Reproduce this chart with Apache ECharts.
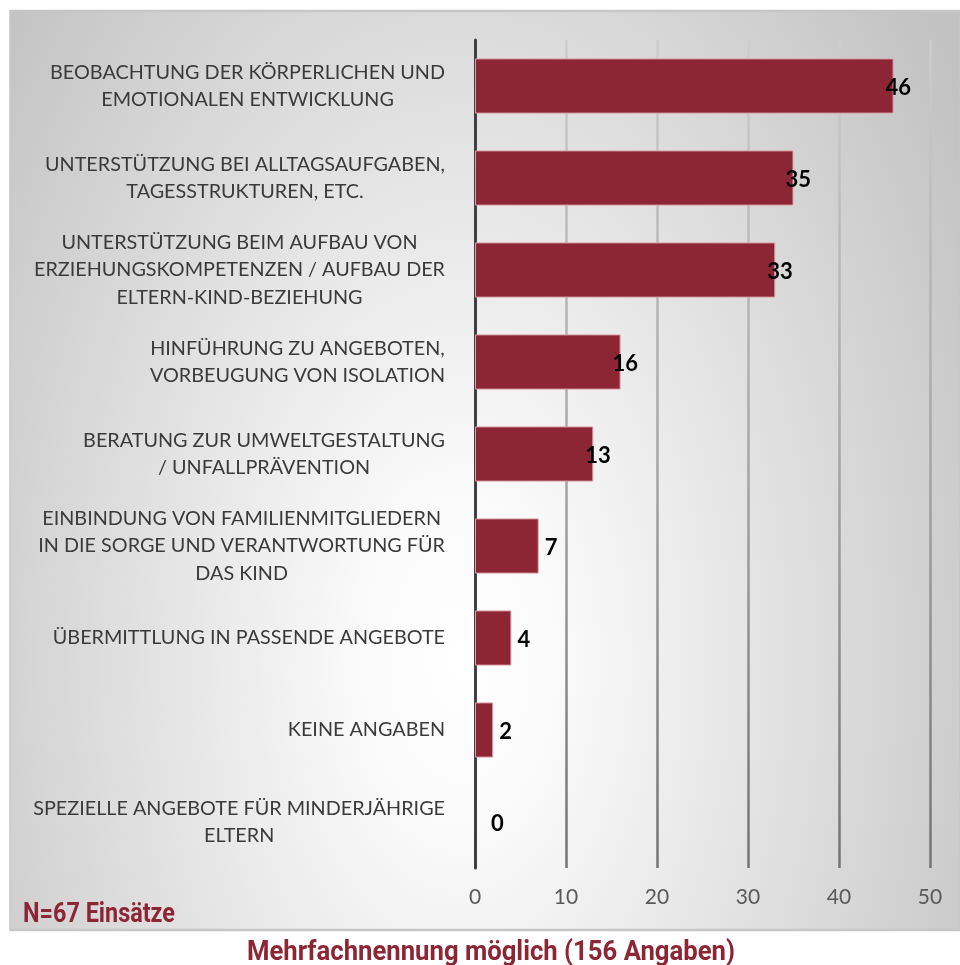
<!DOCTYPE html>
<html>
<head>
<meta charset="utf-8">
<script src="https://cdn.jsdelivr.net/npm/echarts@6/dist/echarts.min.js"></script>
<style>
  html, body { margin: 0; padding: 0; background: #ffffff; }
  #chart { width: 960px; height: 965px; }
</style>
</head>
<body>
<div id="chart"></div>
<script>
// Leistungen der Einsätze (Mehrfachnennung), von oben nach unten
const categories = [
  'BEOBACHTUNG DER KÖRPERLICHEN UND\nEMOTIONALEN ENTWICKLUNG',
  'UNTERSTÜTZUNG BEI ALLTAGSAUFGABEN,\nTAGESSTRUKTUREN, ETC.',
  'UNTERSTÜTZUNG BEIM AUFBAU VON\nERZIEHUNGSKOMPETENZEN / AUFBAU DER\nELTERN-KIND-BEZIEHUNG',
  'HINFÜHRUNG ZU ANGEBOTEN,\nVORBEUGUNG VON ISOLATION',
  'BERATUNG ZUR UMWELTGESTALTUNG\n/ UNFALLPRÄVENTION',
  'EINBINDUNG VON FAMILIENMITGLIEDERN\nIN DIE SORGE UND VERANTWORTUNG FÜR\nDAS KIND',
  'ÜBERMITTLUNG IN PASSENDE ANGEBOTE',
  'KEINE ANGABEN',
  'SPEZIELLE ANGEBOTE FÜR MINDERJÄHRIGE\nELTERN'
];
const counts = [46, 35, 33, 16, 13, 7, 4, 2, 0];
const axisTicks = [0, 10, 20, 30, 40, 50];
const sampleNote = 'N=67 Einsätze';
const footNote = 'Mehrfachnennung möglich (156 Angaben)';

const RED = '#8c2534';
const TEXT_FONT = 'Lato, "Open Sans", sans-serif';
const HEAVY_FONT = 'bold 27px Roboto, "Liberation Sans", sans-serif';

const chart = echarts.init(document.getElementById('chart'), null, { renderer: 'canvas' });

// Horizontal squeeze so a bold face reads as a condensed one of a given width
function squeezeFor(text, font, targetWidth) {
  const ctx = document.createElement('canvas').getContext('2d');
  ctx.font = font;
  return targetWidth / ctx.measureText(text).width;
}

// Value labels sit over the bar end for two-digit numbers, just right of it otherwise
function labelOffset(v) {
  if (v >= 10) return [-13, 2];
  if (v === 0) return [11, 2];
  return [1, 2];
}

// Elliptical white-to-grey background panel (scaled vertically)
const bgScaleY = 1.7;
const panel = { x: 10, y: 11, w: 950, h: 919 };

const option = {
  animation: false,
  backgroundColor: '#ffffff',
  graphic: [
    {
      type: 'rect',
      z: -10,
      silent: true,
      scaleY: bgScaleY,
      shape: { x: panel.x, y: panel.y / bgScaleY, width: panel.w, height: panel.h / bgScaleY },
      style: {
        fill: new echarts.graphic.RadialGradient(460, 660 / bgScaleY, 600, [
          { offset: 0, color: '#ffffff' },
          { offset: 0.15, color: '#fbfbfb' },
          { offset: 1, color: '#c2c2c2' }
        ], true),
        stroke: '#c6c6c6',
        lineWidth: 1.5
      }
    },
    {
      type: 'text',
      z: 10,
      x: 23,
      y: 915,
      scaleX: squeezeFor(sampleNote, HEAVY_FONT, 152),
      style: {
        text: sampleNote,
        fill: RED,
        font: HEAVY_FONT,
        align: 'left',
        verticalAlign: 'middle'
      }
    },
    {
      type: 'text',
      z: 10,
      x: 491,
      y: 953,
      scaleX: squeezeFor(footNote, HEAVY_FONT, 488),
      style: {
        text: footNote,
        fill: RED,
        font: HEAVY_FONT,
        align: 'center',
        verticalAlign: 'middle'
      }
    }
  ],
  grid: { left: 475, right: 30, top: 40, bottom: 97, containLabel: false },
  xAxis: {
    type: 'value',
    min: axisTicks[0],
    max: axisTicks[axisTicks.length - 1],
    interval: axisTicks[1] - axisTicks[0],
    axisLine: { show: false },
    axisTick: { show: false },
    axisLabel: {
      color: '#595959',
      fontFamily: TEXT_FONT,
      fontSize: 21,
      margin: 19
    },
    splitLine: {
      show: true,
      lineStyle: {
        width: 2.5,
        color: new echarts.graphic.LinearGradient(0, 40, 0, 868, [
          { offset: 0, color: '#cdcdcd' },
          { offset: 0.5, color: '#a6a6a6' },
          { offset: 1, color: '#737373' }
        ], true)
      }
    }
  },
  yAxis: {
    type: 'category',
    inverse: true,
    data: categories,
    axisLine: { show: true, lineStyle: { color: '#404040', width: 3 } },
    axisTick: { show: false },
    axisLabel: {
      margin: 30,
      align: 'right',
      formatter: function (value) {
        return value.split('\n').map(function (line) { return '{c|' + line + '}'; }).join('\n');
      },
      rich: {
        c: {
          align: 'center',
          fontFamily: TEXT_FONT,
          fontSize: 19.8,
          lineHeight: 27.5,
          color: '#3a3a3a'
        }
      }
    },
    splitLine: { show: false }
  },
  series: [
    {
      type: 'bar',
      barCategoryGap: '40%',
      data: counts.map(function (v) {
        return {
          value: v,
          label: { offset: labelOffset(v) },
          itemStyle: { borderWidth: v === 0 ? 0 : 1 }
        };
      }),
      itemStyle: {
        color: RED,
        borderColor: '#dba3ab',
        borderWidth: 1
      },
      label: {
        show: true,
        position: 'right',
        distance: 5,
        color: '#000000',
        fontFamily: TEXT_FONT,
        fontWeight: 'bold',
        fontSize: 22
      }
    }
  ]
};

chart.setOption(option);
</script>
</body>
</html>
